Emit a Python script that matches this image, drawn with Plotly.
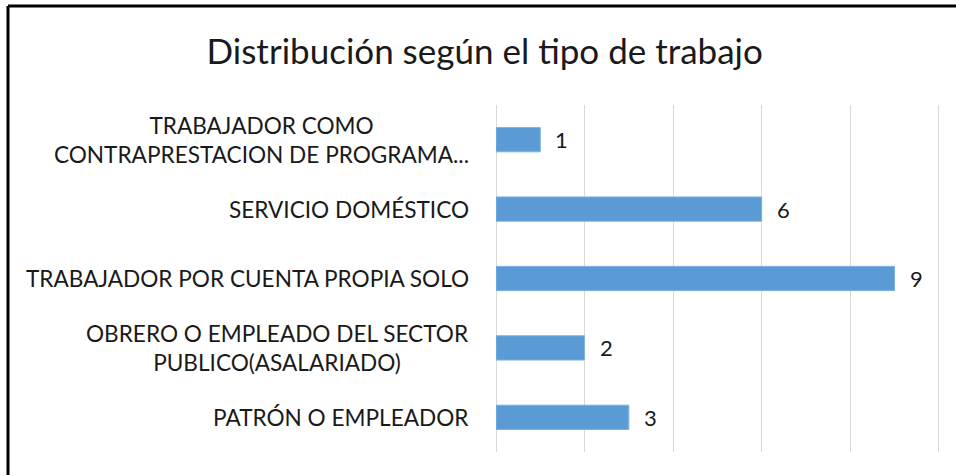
import plotly.graph_objects as go

categories = [
    "PATRÓN O EMPLEADOR",
    "OBRERO O EMPLEADO DEL SECTOR<br>PUBLICO(ASALARIADO)",
    "TRABAJADOR POR CUENTA PROPIA SOLO",
    "SERVICIO DOMÉSTICO",
    "TRABAJADOR COMO<br>CONTRAPRESTACION DE PROGRAMA...",
]
values = [3, 2, 9, 6, 1]
x_ticks = [0, 2, 4, 6, 8, 10]
title_text = "Distribución según el tipo de trabajo"

FONT = "Lato"
TXT = "#1a1a1a"

fig = go.Figure()
fig.add_trace(go.Bar(
    x=values, y=list(range(len(categories))), orientation="h",
    marker=dict(color="#5B9BD5", line=dict(color="#7FB2E0", width=1)),
    hoverinfo="skip",
))

annotations = []
for i, c in enumerate(categories):
    annotations.append(dict(
        x=0, xref="paper", y=i, yref="y", text=c, showarrow=False,
        xanchor="right", yanchor="middle", align="center", xshift=-25,
        font=dict(family=FONT, size=22.6, color=TXT),
    ))
for i, v in enumerate(values):
    annotations.append(dict(
        x=v, xref="x", y=i, yref="y", text=str(v), showarrow=False,
        xanchor="left", yanchor="middle", xshift=13,
        font=dict(family=FONT, size=22, color=TXT),
    ))

PW = 445
fig.update_layout(
    width=956, height=475,
    margin=dict(l=496, r=956 - 496 - PW, t=105, b=23),
    paper_bgcolor="white", plot_bgcolor="white",
    showlegend=False,
    bargap=0.65,
    title=dict(text=title_text, x=0.507, xanchor="center", y=1 - 52 / 475, yanchor="middle",
               yref="container", font=dict(family=FONT, size=35, color=TXT)),
    xaxis=dict(range=[0, 10.05], tickvals=x_ticks, showticklabels=False, showgrid=True,
               gridcolor="#D9D9D9", gridwidth=1, zeroline=True, zerolinecolor="#D9D9D9",
               zerolinewidth=1, showline=False, fixedrange=True),
    yaxis=dict(range=[-0.5, len(categories) - 0.5], showticklabels=False, showgrid=False,
               zeroline=False, showline=False, fixedrange=True),
    annotations=annotations,
    shapes=[
        dict(type="line", xref="paper", yref="paper", x0=(8 - 496) / PW, x1=(960 - 496) / PW,
             y0=(452 - 6) / 347, y1=(452 - 6) / 347, line=dict(color="black", width=3)),
        dict(type="line", xref="paper", yref="paper", x0=(8 - 496) / PW, x1=(8 - 496) / PW,
             y0=(452 - 6) / 347, y1=(452 - 480) / 347, line=dict(color="black", width=3)),
    ],
)

fig.write_html("out.html", config={"displayModeBar": False},
               post_script="document.body.style.margin='0';document.body.style.overflow='hidden';")
